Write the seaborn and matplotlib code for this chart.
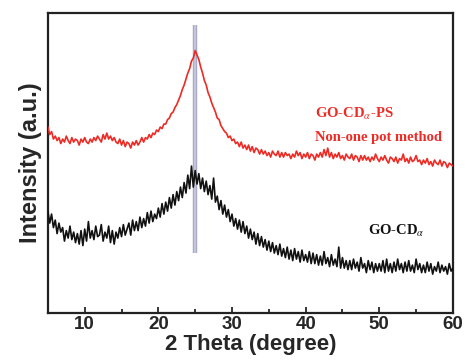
import numpy as np
import pandas as pd
import matplotlib
matplotlib.use("Agg")
import matplotlib.pyplot as plt
import seaborn as sns

# 2-theta sampling (0.25 deg step, 5..60)
two_theta = [5 + 0.25 * i for i in range(221)]

red_ps = [
    62, 59.5, 60.5, 58, 59, 57.5, 58.5, 56.5, 58, 57, 59, 57.5,
    56.5, 58.5, 57, 58, 57.5, 56, 58, 57, 58.5, 57, 56.5, 58,
    57, 58.5, 57.5, 59, 58, 57, 59.5, 58, 60, 58, 59, 57.5,
    58.5, 57, 56.5, 58, 56, 57.5, 55.5, 57, 56.5, 55, 57, 56,
    57.5, 56, 57, 58.5, 57, 58.5, 58, 59.5, 58.5, 60, 59.5, 61,
    60.5, 62, 61.5, 63, 63, 64.5, 65, 66.5, 67, 68.5, 69.5, 71,
    72.5, 74.5, 76, 78, 80, 81.5, 84, 85, 87.5, 86, 84.5, 82,
    80, 77.5, 76, 73.5, 72, 70, 68.5, 67, 65, 64.5, 62.5, 61.5,
    60.5, 60, 58.5, 59, 57.5, 58, 56.5, 57, 55.5, 57, 55, 56,
    54.5, 56, 54, 55.5, 53.5, 55, 54.5, 53, 54.5, 53, 54, 52.5,
    53.5, 52, 54, 53, 52.5, 54, 52, 53.5, 52, 53.5, 52.5, 53,
    51.5, 53, 52, 54, 52.5, 53.5, 51.5, 53, 52, 53.5, 51.5, 53,
    52.5, 51, 53, 52, 53.5, 52, 54.5, 52.5, 55, 52, 53.5, 51.5,
    53, 52, 53.5, 51.5, 52.5, 51, 53, 52, 51.5, 53, 51, 52.5,
    52, 50.5, 52.5, 51, 52.5, 51, 52, 50.5, 52, 51, 53, 51.5,
    50.5, 52, 51, 52.5, 51, 50, 52, 51.5, 50.5, 52, 50, 51.5,
    51, 53, 50.5, 51.5, 50, 52, 50.5, 51, 52.5, 50.5, 51, 49.5,
    51, 50, 51.5, 49.5, 50.5, 49, 51, 50, 49.5, 51, 49, 50.5,
    50, 48.5, 50, 49.5, 49,
]

black_cd = [
    34, 30, 33, 28.5, 31, 26.5, 30, 27, 28.5, 24, 27.5, 25,
    29, 24.5, 27, 23.5, 26.5, 23, 27.5, 22.5, 28, 24, 30.5, 25,
    27.5, 24.5, 29, 25.5, 26, 29.5, 24, 27, 25, 29, 23.5, 27.5,
    23, 27, 25, 28.5, 25.5, 29.5, 26, 28, 30, 26, 31, 27.5,
    30.5, 27.5, 32, 28.5, 31.5, 29, 33.5, 30, 34, 30.5, 33, 31.5,
    35, 32, 36.5, 33, 37, 34, 38.5, 35, 39.5, 36, 40.5, 37.5,
    42, 38.5, 43.5, 40, 46, 41.5, 49, 42, 47.5, 43, 46.5, 41.5,
    45, 40.5, 44, 39.5, 42.5, 38, 45, 37, 39, 34.5, 37.5, 33,
    36, 32, 34.5, 30.5, 33, 29, 31.5, 28, 31, 27, 30.5, 26.5,
    29, 25, 28, 24.5, 27, 23, 26.5, 22.5, 25.5, 22, 24.5, 21,
    24, 20.5, 23.5, 20, 22.5, 19.5, 23, 19, 21.5, 18.5, 22, 18,
    21, 17.5, 21.5, 18, 20.5, 17, 21, 17.5, 19.5, 17, 20.5, 16.5,
    20, 16.5, 19.5, 16, 19, 16, 20.5, 16.5, 18.5, 15.5, 19.5, 16,
    18, 15.5, 22, 15, 18.5, 15, 17.5, 14.5, 17.5, 14.5, 18, 15,
    17, 14, 18.5, 15, 16.5, 13.5, 17.5, 14.5, 17, 13.5, 16.5, 14,
    16.5, 14, 17.5, 13.5, 18, 14, 16.5, 13.5, 17, 14, 18, 14.5,
    16.5, 13.5, 17, 14, 17.5, 14, 16, 13.5, 18, 14.5, 16.5, 13.5,
    16, 13.5, 17, 14, 16.5, 13, 15.5, 14, 17, 13.5, 16, 14,
    15.5, 13, 16.5, 14, 15,
]

peak_position = 25.0
x_ticks = [10, 20, 30, 40, 50, 60]

df = pd.DataFrame({
    "two_theta": two_theta * 2,
    "intensity": red_ps + black_cd,
    "sample": ["ps"] * len(red_ps) + ["cd"] * len(black_cd),
})

sns.set_style("ticks")
plt.rcParams["font.family"] = ["Liberation Sans", "DejaVu Sans"]
plt.rcParams["mathtext.fontset"] = "stix"

fig = plt.figure(figsize=(4.65, 3.62), dpi=100)
ax = fig.add_axes([0.103, 0.135, 0.871, 0.829])

ax.axvline(peak_position, ymin=0.20, ymax=0.96, color="#a9abc8", lw=3.2, zorder=1,
           solid_capstyle="butt")
ax.axvline(peak_position, ymin=0.20, ymax=0.96, color="#c4c6dc", lw=1.4, zorder=1,
           solid_capstyle="butt")

sns.lineplot(data=df, x="two_theta", y="intensity", hue="sample",
             palette={"ps": "#ee2a24", "cd": "#111111"}, lw=1.2,
             legend=False, ax=ax, zorder=3)

ax.set_xlim(5, 60)
ax.set_ylim(0, 100)
ax.set_xticks(x_ticks)
ax.set_xticks([5, 15, 25, 35, 45, 55], minor=True)
ax.set_yticks([])
ax.tick_params(axis="x", which="major", direction="in", length=4, width=1.3,
               labelsize=13.5, pad=2)
ax.tick_params(axis="x", which="minor", direction="in", length=3, width=1.3)
for lab in ax.get_xticklabels():
    lab.set_fontweight("bold")
for s in ax.spines.values():
    s.set_linewidth(1.6)
    s.set_color("#222222")

ax.set_xlabel("2 Theta (degree)", fontsize=16, fontweight="bold", labelpad=1)
ax.set_ylabel("Intensity (a.u.)", fontsize=17, fontweight="bold", labelpad=4)

serif = ["Liberation Serif", "DejaVu Serif"]
ax.text(0.66, 0.665, r"GO-CD$_{\alpha}$-PS", transform=ax.transAxes, color="#ee2a24",
        fontsize=10.5, fontweight="bold", family=serif, va="center")
ax.text(0.66, 0.585, "Non-one pot method", transform=ax.transAxes, color="#ee2a24",
        fontsize=10.5, fontweight="bold", family=serif, va="center")
ax.text(0.79, 0.275, r"GO-CD$_{\alpha}$", transform=ax.transAxes, color="#111111",
        fontsize=10.5, fontweight="bold", family=serif, va="center")

fig.savefig("out.png", dpi=100)
